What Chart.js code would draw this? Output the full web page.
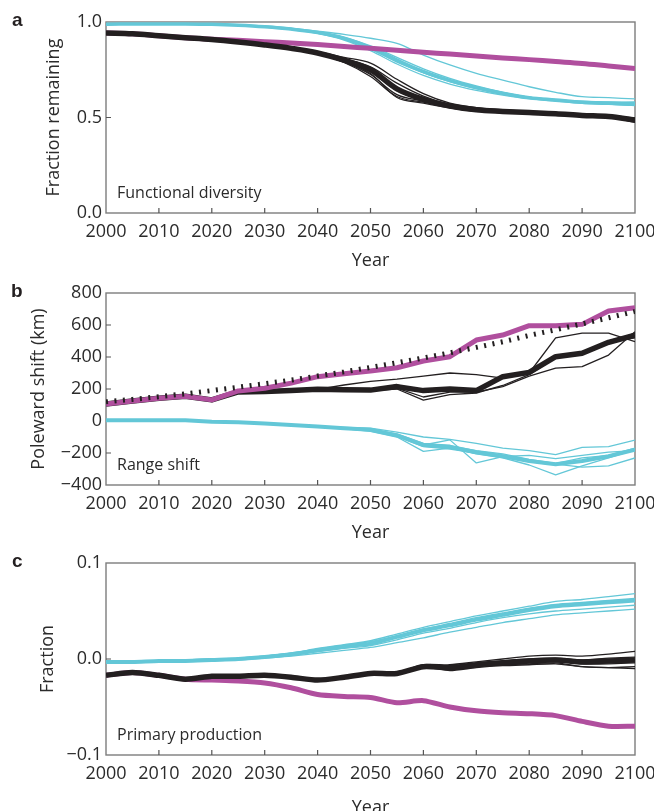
<!DOCTYPE html>
<html><head><meta charset="utf-8">
<script src="https://cdn.jsdelivr.net/npm/chart.js@4.4.0/dist/chart.umd.min.js"></script>
<style>
html,body{margin:0;padding:0;background:#fff;}
#wrap{position:relative;width:654px;height:811px;overflow:hidden;background:#fff;}
canvas{position:absolute;left:0;}
.lbl{position:absolute;font-family:'Liberation Sans',Arial,sans-serif;font-weight:bold;font-size:19px;line-height:19px;color:#231f20;}
</style></head><body>
<div id="wrap">
<canvas id="ca" width="654" height="272" style="top:0px"></canvas>
<canvas id="cb" width="654" height="272" style="top:272px"></canvas>
<canvas id="cc" width="654" height="275" style="top:544px"></canvas>
<div class="lbl" style="left:12px;top:10px">a</div>
<div class="lbl" style="left:11px;top:281px">b</div>
<div class="lbl" style="left:12px;top:551px">c</div>
</div>
<script>
// ---------- shared categories ----------
const years = [2000,2005,2010,2015,2020,2025,2030,2035,2040,2045,2050,2055,2060,2065,2070,2075,2080,2085,2090,2095,2100];
const xTickVals = [2000,2010,2020,2030,2040,2050,2060,2070,2080,2090,2100];
const xTickLabels = ['2000','2010','2020','2030','2040','2050','2060','2070','2080','2090','2100'];

// ---------- panel a: Functional diversity ----------
const yTickValsA = [0, 0.5, 1];
const yTickLabelsA = ['0.0','0.5','1.0'];
const magentaA = [0.942,0.938,0.928,0.918,0.910,0.904,0.897,0.890,0.882,0.872,0.862,0.852,0.842,0.832,0.822,0.812,0.803,0.793,0.783,0.770,0.757];
const blackMeanA = [0.942,0.938,0.928,0.918,0.908,0.895,0.880,0.862,0.838,0.800,0.750,0.650,0.595,0.560,0.540,0.532,0.526,0.520,0.511,0.505,0.487];
const blackRunsA = [
  [0.944,0.940,0.930,0.920,0.910,0.897,0.883,0.866,0.845,0.815,0.785,0.700,0.625,0.575,0.552,0.540,0.533,0.527,0.518,0.512,0.497],
  [0.942,0.938,0.928,0.918,0.908,0.895,0.880,0.861,0.836,0.795,0.730,0.605,0.575,0.550,0.532,0.526,0.521,0.515,0.506,0.500,0.482],
  [0.941,0.937,0.927,0.917,0.907,0.894,0.879,0.860,0.833,0.788,0.715,0.610,0.580,0.555,0.535,0.528,0.522,0.516,0.507,0.501,0.478],
  [0.943,0.939,0.929,0.919,0.909,0.896,0.881,0.864,0.841,0.807,0.765,0.680,0.612,0.568,0.546,0.536,0.530,0.524,0.515,0.509,0.492],
  [0.942,0.938,0.928,0.918,0.908,0.895,0.880,0.862,0.838,0.800,0.745,0.640,0.590,0.558,0.538,0.530,0.524,0.518,0.509,0.503,0.485],
  [0.940,0.936,0.926,0.916,0.906,0.893,0.878,0.859,0.832,0.790,0.725,0.620,0.585,0.552,0.534,0.527,0.522,0.516,0.508,0.502,0.475]
];
const cyanMeanA = [0.988,0.990,0.990,0.990,0.988,0.983,0.975,0.963,0.945,0.915,0.865,0.800,0.740,0.693,0.656,0.627,0.604,0.592,0.580,0.574,0.570];
const cyanRunsA = [
  [0.989,0.991,0.991,0.991,0.990,0.986,0.979,0.968,0.952,0.935,0.915,0.888,0.827,0.775,0.731,0.696,0.661,0.632,0.609,0.604,0.597],
  [0.987,0.989,0.989,0.989,0.987,0.982,0.973,0.960,0.940,0.905,0.850,0.780,0.720,0.675,0.642,0.617,0.597,0.585,0.574,0.570,0.562],
  [0.988,0.990,0.990,0.990,0.988,0.983,0.974,0.961,0.942,0.910,0.860,0.790,0.735,0.690,0.655,0.628,0.605,0.594,0.582,0.579,0.580],
  [0.988,0.990,0.990,0.990,0.988,0.984,0.976,0.965,0.948,0.920,0.875,0.815,0.755,0.705,0.665,0.632,0.607,0.593,0.583,0.576,0.575],
  [0.987,0.989,0.989,0.989,0.987,0.982,0.974,0.962,0.943,0.912,0.858,0.795,0.745,0.698,0.660,0.630,0.606,0.592,0.578,0.570,0.565],
  [0.988,0.990,0.990,0.990,0.988,0.983,0.975,0.964,0.947,0.918,0.870,0.805,0.735,0.688,0.652,0.624,0.602,0.590,0.585,0.582,0.580]
];

// ---------- panel b: Range shift ----------
const yTickValsB = [-400,-200,0,200,400,600,800];
const yTickLabelsB = ['\u2212400','\u2212200','0','200','400','600','800'];
const dottedB = [120,135,152,170,190,211,233,256,281,307,335,364,394,426,460,495,535,570,607,645,685];
const magentaB = [106,125,142,155,132,188,205,237,277,295,312,333,375,402,506,537,596,596,604,687,708];
const blackMeanB = [106,125,142,155,132,182,185,190,198,196,193,215,190,200,190,277,304,402,423,492,537];
const blackRunsB = [
  [104,123,140,153,130,180,183,188,198,225,248,262,280,300,290,268,305,398,418,488,550],
  [108,127,144,157,134,184,187,192,196,194,190,200,130,165,175,222,290,395,415,485,530],
  [106,125,142,155,132,182,185,190,195,192,190,205,150,180,180,215,280,330,340,412,558],
  [106,125,142,155,132,182,185,190,196,193,192,210,200,205,190,280,300,519,549,549,496],
  [106,125,142,155,132,182,185,190,197,195,195,220,190,195,195,275,305,405,430,495,520],
  [106,125,142,155,132,182,185,190,198,196,198,225,185,190,200,285,310,410,420,500,545]
];
const cyanMeanB = [5,4,4,5,-4,-8,-15,-25,-35,-45,-55,-90,-150,-160,-195,-220,-250,-270,-250,-220,-180];
const cyanRunsB = [
  [5,4,4,5,-4,-8,-15,-25,-33,-40,-45,-70,-100,-115,-140,-170,-185,-210,-165,-160,-120],
  [5,4,4,5,-4,-8,-15,-25,-35,-45,-55,-85,-150,-118,-262,-222,-215,-235,-215,-195,-185],
  [5,4,4,5,-4,-8,-15,-25,-37,-48,-65,-100,-190,-170,-205,-230,-275,-337,-280,-230,-180],
  [5,4,4,5,-4,-8,-15,-25,-36,-46,-60,-95,-160,-175,-200,-215,-255,-270,-288,-280,-231],
  [5,4,4,5,-4,-8,-15,-25,-35,-44,-52,-80,-140,-155,-185,-205,-240,-265,-230,-215,-170]
];

// ---------- panel c: Primary production ----------
const yTickValsC = [-0.1, 0, 0.1];
const yTickLabelsC = ['\u22120.1','0.0','0.1'];
const magentaC = [-0.017,-0.014,-0.017,-0.021,-0.022,-0.023,-0.025,-0.030,-0.037,-0.039,-0.040,-0.0455,-0.0434,-0.050,-0.054,-0.056,-0.057,-0.059,-0.065,-0.070,-0.070];
const blackMeanC = [-0.017,-0.014,-0.017,-0.021,-0.018,-0.018,-0.017,-0.019,-0.022,-0.019,-0.015,-0.015,-0.008,-0.009,-0.006,-0.004,-0.002,-0.001,-0.003,-0.002,-0.001];
const blackRunsC = [
  [-0.017,-0.014,-0.017,-0.021,-0.018,-0.018,-0.017,-0.019,-0.021,-0.018,-0.014,-0.014,-0.006,-0.006,-0.003,0.000,0.003,0.004,0.003,0.005,0.008],
  [-0.017,-0.014,-0.017,-0.021,-0.018,-0.018,-0.017,-0.019,-0.022,-0.019,-0.016,-0.016,-0.009,-0.012,-0.009,-0.007,-0.006,-0.005,-0.008,-0.009,-0.008],
  [-0.017,-0.014,-0.017,-0.021,-0.018,-0.018,-0.017,-0.019,-0.022,-0.019,-0.015,-0.015,-0.008,-0.010,-0.007,-0.004,-0.003,-0.002,-0.005,-0.005,-0.004],
  [-0.017,-0.014,-0.017,-0.021,-0.018,-0.018,-0.017,-0.019,-0.022,-0.019,-0.015,-0.015,-0.007,-0.008,-0.005,-0.002,0.000,0.001,-0.001,0.001,0.002],
  [-0.017,-0.014,-0.017,-0.021,-0.018,-0.018,-0.017,-0.019,-0.022,-0.020,-0.016,-0.016,-0.008,-0.011,-0.008,-0.006,-0.005,-0.004,-0.008,-0.009,-0.010]
];
const cyanMeanC = [-0.003,-0.003,-0.002,-0.002,-0.001,0.000,0.002,0.005,0.009,0.013,0.016,0.023,0.030,0.035,0.041,0.046,0.051,0.055,0.057,0.059,0.061];
const cyanRunsC = [
  [-0.003,-0.003,-0.002,-0.001,0.000,0.001,0.003,0.006,0.011,0.015,0.019,0.026,0.033,0.039,0.045,0.050,0.055,0.060,0.062,0.065,0.068],
  [-0.003,-0.003,-0.003,-0.002,-0.002,-0.001,0.001,0.003,0.006,0.009,0.012,0.017,0.022,0.028,0.033,0.038,0.042,0.046,0.048,0.050,0.052],
  [-0.003,-0.003,-0.002,-0.002,-0.001,0.000,0.002,0.004,0.008,0.011,0.014,0.020,0.027,0.032,0.038,0.043,0.047,0.050,0.052,0.054,0.056],
  [-0.002,-0.002,-0.002,-0.001,0.000,0.001,0.003,0.006,0.010,0.014,0.018,0.024,0.031,0.037,0.043,0.048,0.053,0.057,0.059,0.061,0.063]
];

// ---------- styling ----------
const BLACK = '#231f20', CYAN = '#63c7d7', MAGENTA = '#b04f9e';
const FONT = "'Open Sans', 'DejaVu Sans', sans-serif";
const TEXT = '#2b2b2b';

function pts(vals){ return years.map((x,i)=>({x:x, y:vals[i]})); }
function line(vals, color, width, order, extra){
  return Object.assign({data: pts(vals), borderColor: color, borderWidth: width, pointRadius: 0, fill: false, order: order}, extra||{});
}

const framePlugin = {
  id: 'frame',
  beforeDatasetsDraw(chart){
    const {ctx, chartArea: a, scales} = chart;
    ctx.save();
    ctx.strokeStyle = '#7d7d7d';
    ctx.lineWidth = 1.4;
    ctx.strokeRect(a.left, a.top, a.right - a.left, a.bottom - a.top);
    ctx.strokeStyle = '#555';
    ctx.lineWidth = 1.2;
    ctx.beginPath();
    scales.x.ticks.forEach(t=>{
      if (t.value <= scales.x.min || t.value >= scales.x.max) return;
      const px = scales.x.getPixelForValue(t.value);
      ctx.moveTo(px, a.bottom); ctx.lineTo(px, a.bottom - 5);
    });
    scales.y.ticks.forEach(t=>{
      if (t.value <= scales.y.min || t.value >= scales.y.max) return;
      const py = scales.y.getPixelForValue(t.value);
      ctx.moveTo(a.left, py); ctx.lineTo(a.left + 5, py);
    });
    ctx.stroke();
    ctx.restore();
  },
  afterDraw(chart){
    const txt = chart.options.plugins.frame.note;
    const {ctx, chartArea: a} = chart;
    ctx.save();
    ctx.font = '16px ' + FONT;
    ctx.fillStyle = TEXT;
    ctx.textBaseline = 'alphabetic';
    ctx.textAlign = 'left';
    ctx.fillText(txt, a.left + 11, a.bottom - 15);
    ctx.restore();
  }
};

function makeChart(id, cfg){
  const c = cfg;
  return new Chart(document.getElementById(id), {
    type: 'line',
    data: {datasets: c.datasets},
    options: {
      responsive: false, animation: false, devicePixelRatio: 1,
      layout: {padding: {left: 0, right: 19, top: c.padTop, bottom: 0}},
      elements: {line: {tension: c.tension, borderCapStyle: 'butt', borderJoinStyle: 'round'}},
      plugins: {legend: {display: false}, tooltip: {enabled: false}, frame: {note: c.note}},
      scales: {
        x: {
          type: 'linear', min: 2000, max: 2100,
          grid: {display: false, drawTicks: false}, border: {display: false},
          afterBuildTicks: s => { s.ticks = xTickVals.map(v=>({value: v})); },
          afterFit: s => { s.height = c.xHeight; s.paddingLeft = 0; s.paddingRight = 0; },
          ticks: {padding: 8, maxRotation: 0, autoSkip: false, color: TEXT, font: {family: FONT, size: 18},
                  callback: (v, i) => xTickLabels[i]},
          title: {display: true, text: 'Year', color: TEXT, font: {family: FONT, size: 18}, padding: {top: c.yearPad, bottom: 0}}
        },
        y: {
          type: 'linear', min: c.yMin, max: c.yMax,
          grid: {display: false, drawTicks: false}, border: {display: false},
          afterBuildTicks: s => { s.ticks = c.yVals.map(v=>({value: v})); },
          afterFit: s => { s.width = 106; s.paddingTop = 0; s.paddingBottom = 0; },
          ticks: {padding: 4, autoSkip: false, color: TEXT, font: {family: FONT, size: 18},
                  callback: (v, i) => c.yLabels[i]},
          title: {display: true, text: c.yTitle, color: TEXT, font: {family: FONT, size: 18}, padding: {top: c.titlePad, bottom: 0}}
        }
      }
    },
    plugins: [framePlugin]
  });
}

// panel a
const dsA = [];
blackRunsA.forEach(r=>dsA.push(line(r, BLACK, 1.3, 5)));
cyanRunsA.forEach(r=>dsA.push(line(r, CYAN, 1.3, 5)));
dsA.push(line(cyanMeanA, CYAN, 3.5, 4));
dsA.push(line(magentaA, MAGENTA, 5, 3));
dsA.push(line(blackMeanA, BLACK, 5.5, 2));
makeChart('ca', {datasets: dsA, padTop: 22, xHeight: 59, yearPad: 2, titlePad: 43, tension: 0.35,
  yMin: 0, yMax: 1, yVals: yTickValsA, yLabels: yTickLabelsA, yTitle: 'Fraction remaining', note: 'Functional diversity'});

// panel b
const dsB = [];
blackRunsB.forEach(r=>dsB.push(line(r, BLACK, 1.3, 5)));
cyanRunsB.forEach(r=>dsB.push(line(r, CYAN, 1.3, 5)));
dsB.push(line(cyanMeanB, CYAN, 4, 4));
dsB.push(line(blackMeanB, BLACK, 5.5, 3));
dsB.push(line(magentaB, MAGENTA, 5, 2));
dsB.push(line(dottedB, BLACK, 5, 1, {borderDash: [2, 6.5]}));
makeChart('cb', {datasets: dsB, padTop: 21, xHeight: 59, yearPad: 2, titlePad: 28.5, tension: 0,
  yMin: -400, yMax: 800, yVals: yTickValsB, yLabels: yTickLabelsB, yTitle: 'Poleward shift (km)', note: 'Range shift'});

// panel c
const dsC = [];
blackRunsC.forEach(r=>dsC.push(line(r, BLACK, 1.3, 5)));
cyanRunsC.forEach(r=>dsC.push(line(r, CYAN, 1.3, 5)));
dsC.push(line(cyanMeanC, CYAN, 4, 4));
dsC.push(line(magentaC, MAGENTA, 5, 3));
dsC.push(line(blackMeanC, BLACK, 5.5, 2));
makeChart('cc', {datasets: dsC, padTop: 19, xHeight: 64, yearPad: 4, titlePad: 37.5, tension: 0.25,
  yMin: -0.1, yMax: 0.1, yVals: yTickValsC, yLabels: yTickLabelsC, yTitle: 'Fraction', note: 'Primary production'});
</script>
</body></html>
